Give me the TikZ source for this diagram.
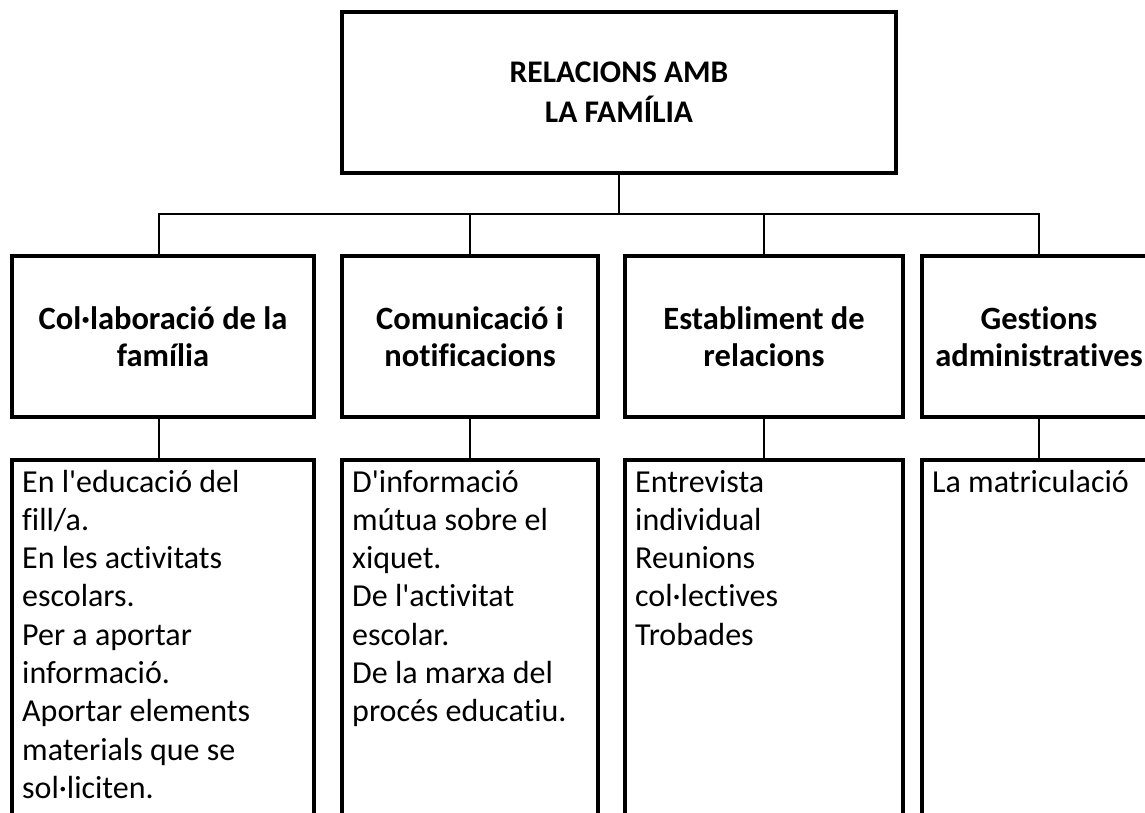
\documentclass[tikz,border=0pt]{standalone}
\usepackage{fontspec}
\setmainfont{Carlito}[Ligatures={TeXOff,NoCommon,NoContextual,NoRare},RawFeature={-liga;-clig;-calt;-dlig}]
\newcommand{\bodytext}[1]{\parbox[t]{280pt}{\raggedright #1}}
\begin{document}
\begin{tikzpicture}[x=1pt,y=-1pt,
  box/.style={draw, line width=4pt, inner sep=0pt, outer sep=0pt, anchor=north west},
  conn/.style={line width=2pt},
  head/.style={font=\bfseries\fontsize{32.5}{37}\selectfont, align=center},
  titlef/.style={font=\bfseries\fontsize{31.5}{40}\selectfont, align=center},
  body/.style={font=\fontsize{32}{38.3}\selectfont, anchor=base west, inner sep=0pt}]
\useasboundingbox (0,0) rectangle (1145,812);
\clip (0,0) rectangle (1145,812);
% title
\node[box, titlef, minimum width=554pt, minimum height=161pt] (top) at (342,12) {RELACIONS AMB\\LA FAMÍLIA};
% level 2
\node[box, head, minimum width=302pt, minimum height=161pt] (c1) at (12,256) {Col·laboració de la\\família};
\node[box, head, minimum width=256pt, minimum height=161pt] (c2) at (342,256) {Comunicació i\\notificacions};
\node[box, head, minimum width=278pt, minimum height=161pt] (c3) at (625,256) {Establiment de\\relacions};
\node[box, head, minimum width=234pt, minimum height=161pt] (c4) at (922,256) {Gestions\\administratives};
% level 3
\node[box, minimum width=302pt, minimum height=380pt] (d1) at (12,460) {};
\node[box, minimum width=256pt, minimum height=380pt] (d2) at (342,460) {};
\node[box, minimum width=278pt, minimum height=380pt] (d3) at (625,460) {};
\node[box, minimum width=234pt, minimum height=380pt] (d4) at (922,460) {};
\node[body] (e1) at (22,492) {\bodytext{En l'educació del\\fill/a.\\En les activitats\\escolars.\\Per a aportar\\informació.\\Aportar elements\\materials que se\\sol·liciten.}};
\node[body] (e2) at (352,492) {\bodytext{D'informació\\mútua sobre el\\xiquet.\\De l'activitat\\escolar.\\De la marxa del\\procés educatiu.}};
\node[body] (e3) at (635,492) {\bodytext{Entrevista\\individual\\Reunions\\col·lectives\\Trobades}};
\node[body] (e4) at (932,492) {\bodytext{La matriculació}};
% connectors
\draw[conn] (top.south) -- ++(0,41) coordinate (hub);
\draw[conn] ([xshift=-4pt]c1.north) |- (hub) -| (c4.north);
\draw[conn] (c2.north) -- (c2.north |- hub);
\draw[conn] (c3.north) -- (c3.north |- hub);
\draw[conn] ([xshift=-4pt]c1.south) -- ([xshift=-4pt]d1.north);
\draw[conn] (c2.south) -- (d2.north);
\draw[conn] (c3.south) -- (d3.north);
\draw[conn] (c4.south) -- (d4.north);
\end{tikzpicture}
\end{document}
